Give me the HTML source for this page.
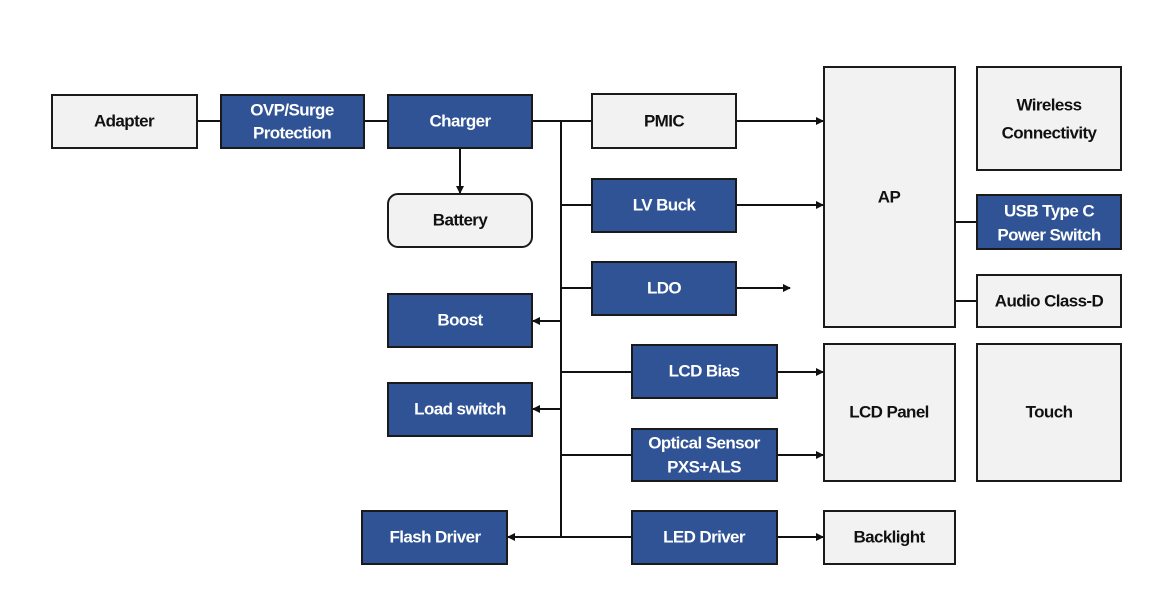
<!DOCTYPE html>
<html><head><style>
body{margin:0;background:#fff}
svg text{font-family:"Liberation Sans",sans-serif;font-weight:bold;font-size:17px;letter-spacing:-0.6px;text-anchor:middle;dominant-baseline:central}
.b{fill:#2f5395;stroke:#1a1a1a;stroke-width:2}
.g{fill:#f2f2f2;stroke:#1a1a1a;stroke-width:2}
.w{fill:#fff}.k{fill:#111}
line{stroke:#111;stroke-width:2}
</style></head><body>
<svg width="1171" height="601" xmlns="http://www.w3.org/2000/svg">
<defs><marker id="a" markerWidth="8" markerHeight="8" refX="7" refY="4" orient="auto" markerUnits="userSpaceOnUse"><path d="M0,0 L8,4 L0,8 z" fill="#111"/></marker></defs>
<line x1="197" y1="121" x2="221" y2="121"/>
<line x1="364" y1="121" x2="388" y2="121"/>
<line x1="532" y1="121" x2="592" y2="121"/>
<line x1="460" y1="148" x2="460" y2="193" marker-end="url(#a)"/>
<line x1="561" y1="121" x2="561" y2="537"/>
<line x1="736" y1="121" x2="823" y2="121" marker-end="url(#a)"/>
<line x1="561" y1="205" x2="592" y2="205"/>
<line x1="736" y1="205" x2="823" y2="205" marker-end="url(#a)"/>
<line x1="561" y1="288" x2="592" y2="288"/>
<line x1="736" y1="288" x2="790" y2="288" marker-end="url(#a)"/>
<line x1="561" y1="321" x2="533" y2="321" marker-end="url(#a)"/>
<line x1="561" y1="409" x2="533" y2="409" marker-end="url(#a)"/>
<line x1="561" y1="537" x2="508" y2="537" marker-end="url(#a)"/>
<line x1="561" y1="372" x2="632" y2="372"/>
<line x1="777" y1="372" x2="823" y2="372" marker-end="url(#a)"/>
<line x1="561" y1="455" x2="632" y2="455"/>
<line x1="777" y1="455" x2="823" y2="455" marker-end="url(#a)"/>
<line x1="561" y1="537" x2="632" y2="537"/>
<line x1="777" y1="537" x2="823" y2="537" marker-end="url(#a)"/>
<line x1="955" y1="222" x2="977" y2="222"/>
<line x1="955" y1="301" x2="977" y2="301"/>

<rect class="g" x="52" y="95" width="145" height="53"/><text class="k" x="124" y="121">Adapter</text>
<rect class="b" x="221" y="95" width="143" height="53"/><text class="w" x="292" y="110">OVP/Surge</text><text class="w" x="292" y="133">Protection</text>
<rect class="b" x="388" y="95" width="144" height="53"/><text class="w" x="460" y="121">Charger</text>
<rect class="g" x="388" y="194" width="144" height="53" rx="10"/><text class="k" x="460" y="220">Battery</text>
<rect class="g" x="592" y="94" width="144" height="54"/><text class="k" x="664" y="121">PMIC</text>
<rect class="b" x="592" y="179" width="144" height="53"/><text class="w" x="664" y="205">LV Buck</text>
<rect class="b" x="592" y="262" width="144" height="53"/><text class="w" x="664" y="288">LDO</text>
<rect class="b" x="388" y="294" width="144" height="53"/><text class="w" x="460" y="320">Boost</text>
<rect class="b" x="388" y="383" width="144" height="53"/><text class="w" x="460" y="409">Load switch</text>
<rect class="b" x="362" y="511" width="145" height="53"/><text class="w" x="435" y="537">Flash Driver</text>
<rect class="b" x="632" y="345" width="145" height="53"/><text class="w" x="704" y="371">LCD Bias</text>
<rect class="b" x="632" y="429" width="145" height="52"/><text class="w" x="704" y="443">Optical Sensor</text><text class="w" x="704" y="467">PXS+ALS</text>
<rect class="b" x="632" y="511" width="145" height="53"/><text class="w" x="704" y="537">LED Driver</text>
<rect class="g" x="824" y="67" width="131" height="260"/><text class="k" x="889" y="197">AP</text>
<rect class="g" x="824" y="344" width="131" height="137"/><text class="k" x="889" y="412">LCD Panel</text>
<rect class="g" x="824" y="511" width="131" height="53"/><text class="k" x="889" y="537">Backlight</text>
<rect class="g" x="977" y="67" width="144" height="103"/><text class="k" x="1049" y="105">Wireless</text><text class="k" x="1049" y="133">Connectivity</text>
<rect class="b" x="977" y="195" width="144" height="54"/><text class="w" x="1049" y="211">USB Type C</text><text class="w" x="1049" y="235">Power Switch</text>
<rect class="g" x="977" y="275" width="144" height="52"/><text class="k" x="1049" y="301">Audio Class-D</text>
<rect class="g" x="977" y="344" width="144" height="137"/><text class="k" x="1049" y="412">Touch</text>
</svg>
</body></html>
